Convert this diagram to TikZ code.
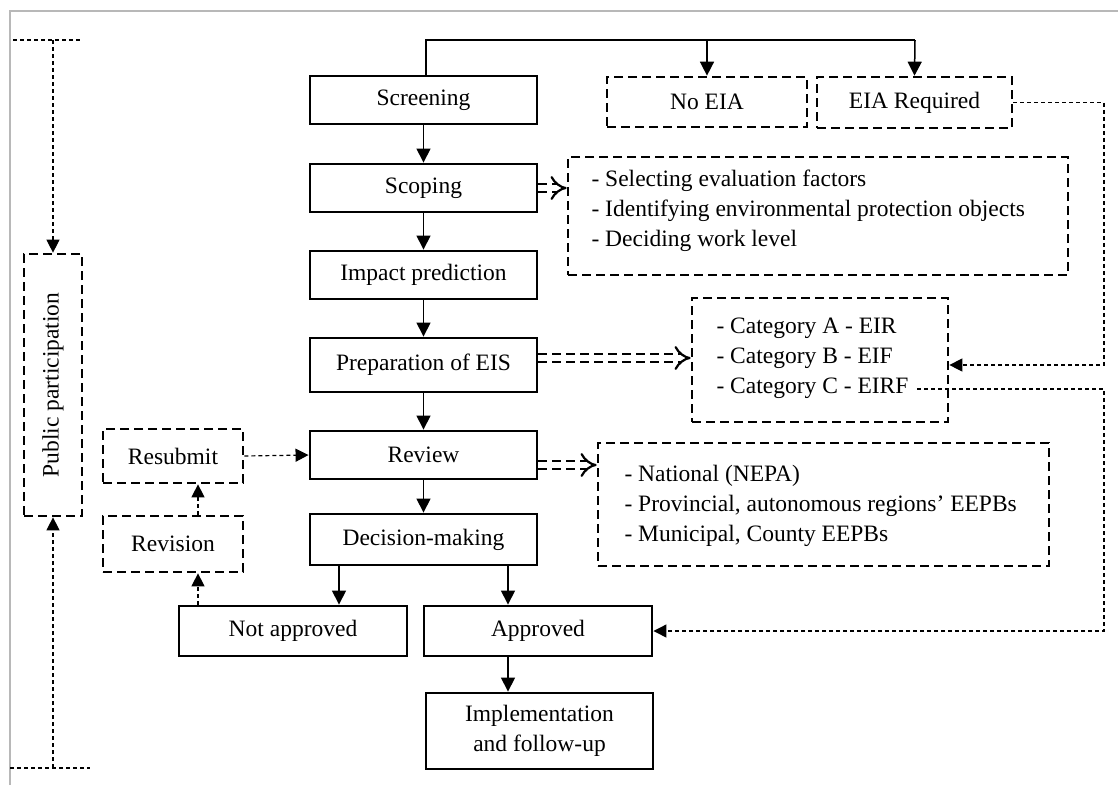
\documentclass[tikz,border=0pt]{standalone}
\usepackage{fontspec}
\setmainfont{Liberation Serif}
\usetikzlibrary{arrows.meta,calc}
\definecolor{framegray}{HTML}{B8B8B8}
\begin{document}
\begin{tikzpicture}[x=1pt,y=-1pt,
  font=\fontsize{23.5}{30}\selectfont,
  stage/.style={draw, line width=2.9pt, minimum width=227pt, minimum height=48pt, inner sep=0pt, align=center},
  option/.style={draw, line width=2.7pt, dash pattern=on 9pt off 5pt, inner sep=0pt, align=center},
  flow/.style={line width=1.5pt, -{Triangle[length=14pt,width=14pt]}},
  link/.style={line width=1.2pt, dash pattern=on 4pt off 3pt},
  linkarrow/.style={link, -{Triangle[length=13pt,width=13pt]}},
  feed/.style={line width=2.2pt, dash pattern=on 9pt off 5pt, double, double distance=6pt, -{Implies}}
]
\useasboundingbox (0,0) rectangle (1118,785);
% frame
\draw[framegray, line width=2.5pt] (10,785) -- (10,11) -- (1118,11);

% main stages
\node[stage] (screen) at (423.5,100) {Screening};
\node[stage] (scope) at (423.5,188) {Scoping};
\node[stage] (impact) at (423.5,275) {Impact prediction};
\node[stage, minimum height=54pt] (prep) at (423.5,365) {Preparation of EIS};
\node[stage] (review) at (423.5,455) {Review};
\node[stage, minimum height=51pt] (decide) at (423.5,539.5) {Decision-making};
\node[stage, minimum width=228pt, minimum height=50pt] (notappr) at (293,631) {Not approved};
\node[stage, minimum width=228pt, minimum height=50pt] (appr) at (538,631) {Approved};
\node[stage, minimum height=76pt] (impl) at (539.5,731) {Implementation\\and follow-up};

% screening outcomes
\node[option, minimum width=200pt, minimum height=50pt] (noeia) at (707,102) {No EIA};
\node[option, minimum width=195pt, minimum height=51pt] (eiareq) at (914.5,102.5) {EIA Required};

% side lists
\node[option, minimum width=500pt, minimum height=118pt] (scopelist) at (818,216) {};
\node[anchor=west, align=left] at (588,210.5) {- Selecting evaluation factors\\- Identifying environmental protection objects\\- Deciding work level};
\node[option, minimum width=256pt, minimum height=124pt] (catbox) at (820,360) {};
\node[anchor=west, align=left] at (713,358.5) {- Category A - EIR\\- Category B - EIF\\- Category C - EIRF};
\node[option, minimum width=451pt, minimum height=123pt] (authbox) at (823.5,504.5) {};
\node[anchor=west, align=left] at (621,505.5) {- National (NEPA)\\- Provincial, autonomous regions' EEPBs\\- Municipal, County EEPBs};

% revision loop
\node[option, minimum width=140pt, minimum height=54pt] (resub) at (173,456) {Resubmit};
\node[option, minimum width=140pt, minimum height=56pt] (revis) at (173,544) {Revision};

% public participation
\node[option, minimum width=58pt, minimum height=262pt] (publ) at (53,385) {};
\node[rotate=90] at (publ.center) {Public participation};

% main flow
\draw[flow] (screen) -- (scope);
\draw[flow] (scope) -- (impact);
\draw[flow] (impact) -- (prep);
\draw[flow] (prep) -- (review);
\draw[flow] (review) -- (decide);
\draw[flow] (decide.south -| 339,0) -- (notappr.north -| 339,0);
\draw[flow] (decide.south -| 508,0) -- (appr.north -| 508,0);
\draw[flow] (appr.south -| 508,0) -- (impl.north -| 508,0);

% screening split
\draw[line width=1.3pt] (screen.north -| 426,0) -- (426,40) -- (915,40);
\draw[flow] (707,40) -- (noeia.north);
\draw[flow] (915,40) -- (eiareq.north);

% double feeds to the lists
\draw[feed] (scope.east) -- (scopelist.west |- scope.east);
\draw[feed] (prep.east |- 0,358) -- (catbox.west |- 0,358);
\draw[feed] (review.east |- 0,465) -- (authbox.west |- 0,465);

% dashed links
\draw[linkarrow] (eiareq.east) -- (1104,102.5) -- (1104,365) -- (catbox.east |- 0,365);
\coordinate (catC) at (917,389);
\draw[linkarrow] (catC) -- (1104,389) -- (1104,631) -- (appr.east);
\draw[linkarrow] (resub.east) -- (review.west);
\draw[linkarrow] (notappr.north -| 198,0) -- (revis.south -| 198,0);
\draw[linkarrow] (revis.north -| 198,0) -- (resub.south -| 198,0);

% participation bracket
\draw[link] (13,40) -- (82,40);
\draw[linkarrow] (publ.north |- 0,40) -- (publ.north);
\draw[link] (10,768) -- (90,768);
\draw[linkarrow] (publ.south |- 0,768) -- (publ.south);
\end{tikzpicture}
\end{document}
